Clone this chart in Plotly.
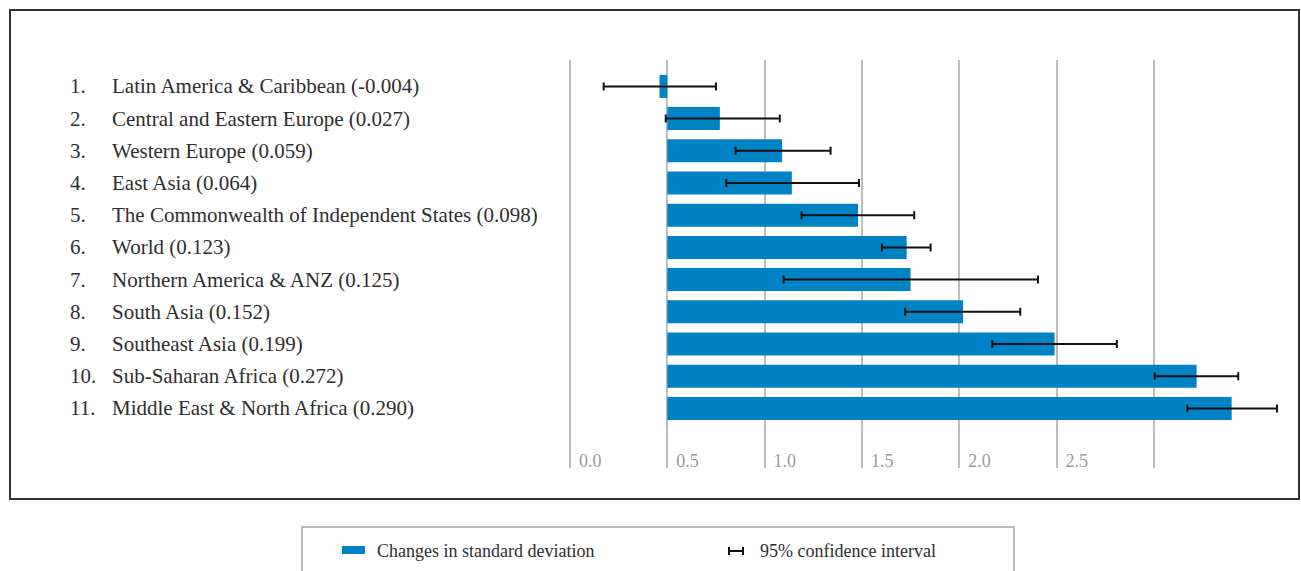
import plotly.graph_objects as go

# ---------------- data ----------------
ranks = ["1.", "2.", "3.", "4.", "5.", "6.", "7.", "8.", "9.", "10.", "11."]
regions = [
    "Latin America & Caribbean (-0.004)",
    "Central and Eastern Europe (0.027)",
    "Western Europe (0.059)",
    "East Asia (0.064)",
    "The Commonwealth of Independent States (0.098)",
    "World (0.123)",
    "Northern America & ANZ (0.125)",
    "South Asia (0.152)",
    "Southeast Asia (0.199)",
    "Sub-Saharan Africa (0.272)",
    "Middle East & North Africa (0.290)",
]
values = [-0.004, 0.027, 0.059, 0.064, 0.098, 0.123, 0.125, 0.152, 0.199, 0.272, 0.290]
ci_low = [-0.0327, -0.0008, 0.0351, 0.0303, 0.0690, 0.1103, 0.0598, 0.1222, 0.1670, 0.2505, 0.2672]
ci_high = [0.0250, 0.0578, 0.0839, 0.0985, 0.1269, 0.1353, 0.1905, 0.1814, 0.2310, 0.2934, 0.3133]
tick_vals = [-0.05, 0.0, 0.05, 0.10, 0.15, 0.20, 0.25]
tick_text = ["0.0", "0.5", "1.0", "1.5", "2.0", "2.5", ""]
legend_labels = ["Changes in standard deviation", "95% confidence interval"]

# ---------------- layout geometry ----------------
W, H = 1301, 571
ML, MR, MT, MB = 567, 11, 60, 103
PW = W - ML - MR
PH = H - MT - MB
SCALE = 1946.0          # px per data unit
X0 = -0.05 - 3 / SCALE  # left edge of plot area, just left of first gridline

def px(x):
    return (x - ML) / PW

def py(y):
    return (H - MB - y) / PH

BLUE = "#0083c4"
TEXT = "#2e2e2e"
FONT = "Liberation Serif"

idx = list(range(len(values)))
err_plus = [h - v for h, v in zip(ci_high, values)]
err_minus = [v - l for v, l in zip(values, ci_low)]

fig = go.Figure()
fig.add_trace(go.Bar(
    x=values, y=idx, orientation="h",
    marker=dict(color=BLUE, line=dict(width=0)),
    width=0.714,
    error_x=dict(type="data", array=err_plus, arrayminus=err_minus,
                 symmetric=False, color="#111111", thickness=2, width=4),
    showlegend=False, hoverinfo="skip",
))

annotations = []
for i, (r, name) in enumerate(zip(ranks, regions)):
    annotations.append(dict(x=px(68), y=i, xref="paper", yref="y", text=r,
                            showarrow=False, xanchor="left", yanchor="middle",
                            font=dict(family=FONT, size=21, color=TEXT)))
    annotations.append(dict(x=px(110), y=i, xref="paper", yref="y", text=name,
                            showarrow=False, xanchor="left", yanchor="middle",
                            font=dict(family=FONT, size=21, color=TEXT)))

# legend texts
annotations.append(dict(x=px(375), y=py(551), xref="paper", yref="paper",
                        text=legend_labels[0], showarrow=False, xanchor="left",
                        yanchor="middle", font=dict(family=FONT, size=18, color=TEXT)))
annotations.append(dict(x=px(758), y=py(551), xref="paper", yref="paper",
                        text=legend_labels[1], showarrow=False, xanchor="left",
                        yanchor="middle", font=dict(family=FONT, size=18, color=TEXT)))

shapes = [
    # outer frame
    dict(type="rect", xref="paper", yref="paper", x0=px(10), x1=px(1299),
         y0=py(10), y1=py(499), line=dict(color="#333333", width=2), layer="below"),
    # legend frame
    dict(type="rect", xref="paper", yref="paper", x0=px(302), x1=px(1014),
         y0=py(527), y1=py(620), line=dict(color="#a8a8a8", width=1.5)),
    # legend blue swatch
    dict(type="rect", xref="paper", yref="paper", x0=px(342), x1=px(365),
         y0=py(546), y1=py(554), fillcolor=BLUE, line=dict(width=0)),
    # legend CI icon
    dict(type="line", xref="paper", yref="paper", x0=px(729), x1=px(743),
         y0=py(551), y1=py(551), line=dict(color="#111111", width=2)),
    dict(type="line", xref="paper", yref="paper", x0=px(729), x1=px(729),
         y0=py(547), y1=py(555), line=dict(color="#111111", width=2)),
    dict(type="line", xref="paper", yref="paper", x0=px(743), x1=px(743),
         y0=py(547), y1=py(555), line=dict(color="#111111", width=2)),
]

fig.update_layout(
    width=W, height=H,
    margin=dict(l=ML, r=MR, t=MT, b=MB, pad=0),
    paper_bgcolor="white", plot_bgcolor="white",
    xaxis=dict(range=[X0, X0 + PW / SCALE], tickvals=tick_vals, ticktext=tick_text,
               showgrid=True, gridcolor="#bdbdbd", gridwidth=1.5, zeroline=False,
               showline=False, ticks="", ticklabelposition="inside right",
               ticklabelshift=9, ticklabelstandoff=-9,
               tickfont=dict(family=FONT, size=18, color="#9a9a9a")),
    yaxis=dict(range=[11.85, -0.82], showgrid=False, zeroline=False,
               showticklabels=False, showline=False, ticks=""),
    annotations=annotations,
    shapes=shapes,
    font=dict(family=FONT, color=TEXT),
)

fig.write_html("out.html", config={"displayModeBar": False},
               post_script="document.body.style.margin='0';document.body.style.overflow='hidden';")
